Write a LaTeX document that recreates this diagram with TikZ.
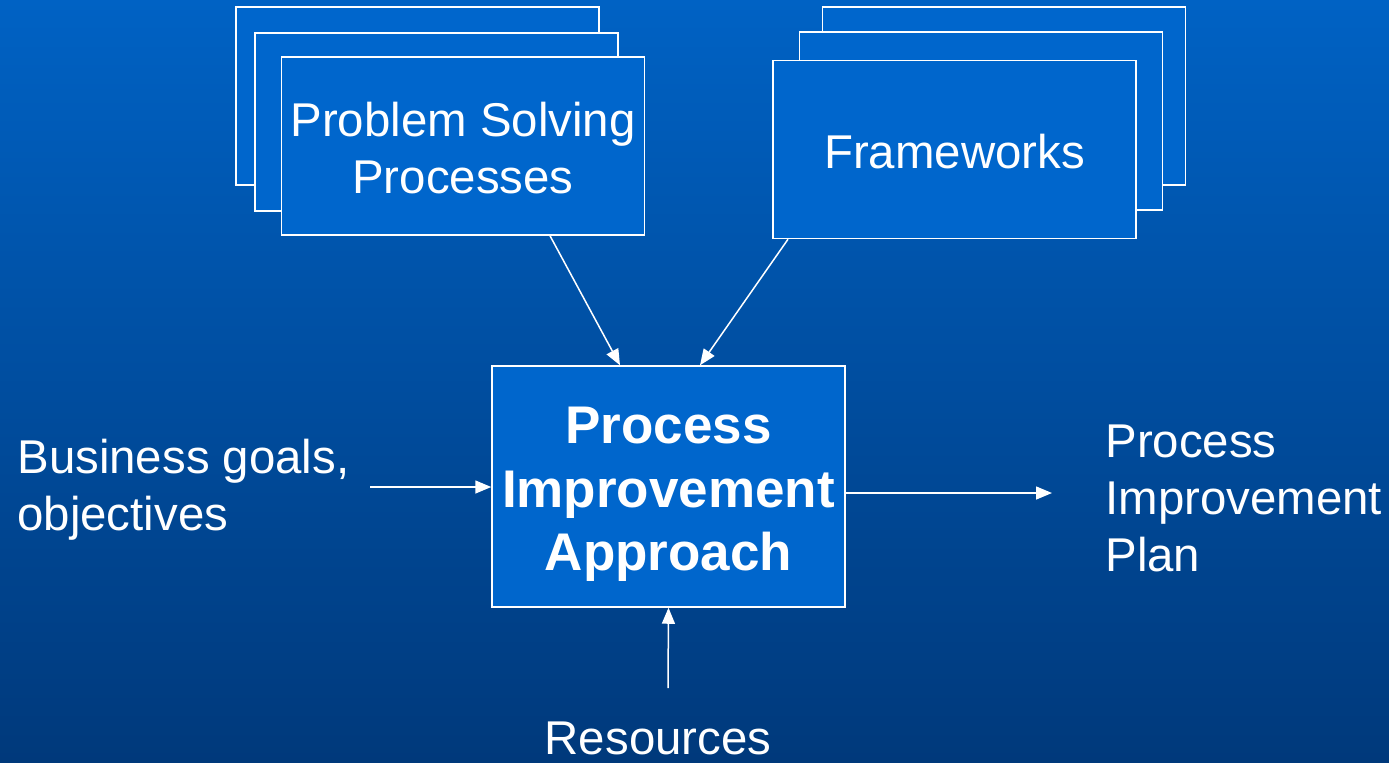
\documentclass[tikz,border=0pt]{standalone}
\usepackage{fontspec}
\setmainfont{Liberation Sans}
\usetikzlibrary{arrows.meta}

\definecolor{bgtop}{HTML}{0062C4}
\definecolor{bgbottom}{HTML}{00397B}
\definecolor{boxblue}{HTML}{0066CC}

\begin{document}
\begin{tikzpicture}[x=0.5pt, y=-0.5pt,
    sheet/.style={draw=white, line width=0.75pt, fill=boxblue, inner sep=0pt,
        minimum width=181.5pt, minimum height=89pt, align=center,
        font=\fontsize{23.7}{28.5}\selectfont},
    label/.style={text=white, inner sep=0pt, font=\fontsize{23.7}{28.5}\selectfont},
    link/.style={draw=white, line width=0.75pt, -{Triangle[length=8pt, width=6.5pt]}}]

    % background
    \useasboundingbox (0,0) rectangle (1389,762);
    \shade[top color=bgtop, bottom color=bgbottom] (0,0) rectangle (1389,762);

    % problem solving stack
    \node[sheet] (psback) at (417.5,96) {};
    \node[sheet] (psmid) at (436.5,122) {};
    \node[sheet, text=white] (ps) at (463,146) {\rule{0pt}{19pt}Problem Solving\\Processes};

    % frameworks stack
    \node[sheet] (fwback) at (1004,96) {};
    \node[sheet] (fwmid) at (981,121) {};
    \node[sheet, text=white] (fw) at (954.5,149.5) {\rule{0pt}{19pt}Frameworks};

    % approach
    \node[sheet, text=white, minimum width=176.5pt, minimum height=120.5pt,
        font=\bfseries\fontsize{26.5}{31.8}\selectfont]
        (pia) at (668.5,486.5) {\rule{0pt}{26pt}Process\\Improvement\\Approach};

    % inputs and output
    \node[label, anchor=west, align=left] (biz) at (17,490) {Business goals,\\objectives};
    \node[label, anchor=west, align=left] (plan) at (1105,498) {Process\\Improvement\\Plan};
    \node[label] (res) at (658,738) {Resources};
    \coordinate (bizend) at (370,487);
    \coordinate (planend) at (1052,493);
    \coordinate (resend) at (668,688);

    % arrows
    \draw[link] ([xshift=43.5pt]ps.south) -- ([xshift=-24.25pt]pia.north);
    \draw[link] ([xshift=-83.25pt]fw.south) -- ([xshift=15.75pt]pia.north);
    \draw[link] (bizend) -- (bizend -| pia.west);
    \draw[link] ([yshift=-3.25pt]pia.east) -- (planend);
    \draw[link] (resend) -- (pia.south);
\end{tikzpicture}
\end{document}
